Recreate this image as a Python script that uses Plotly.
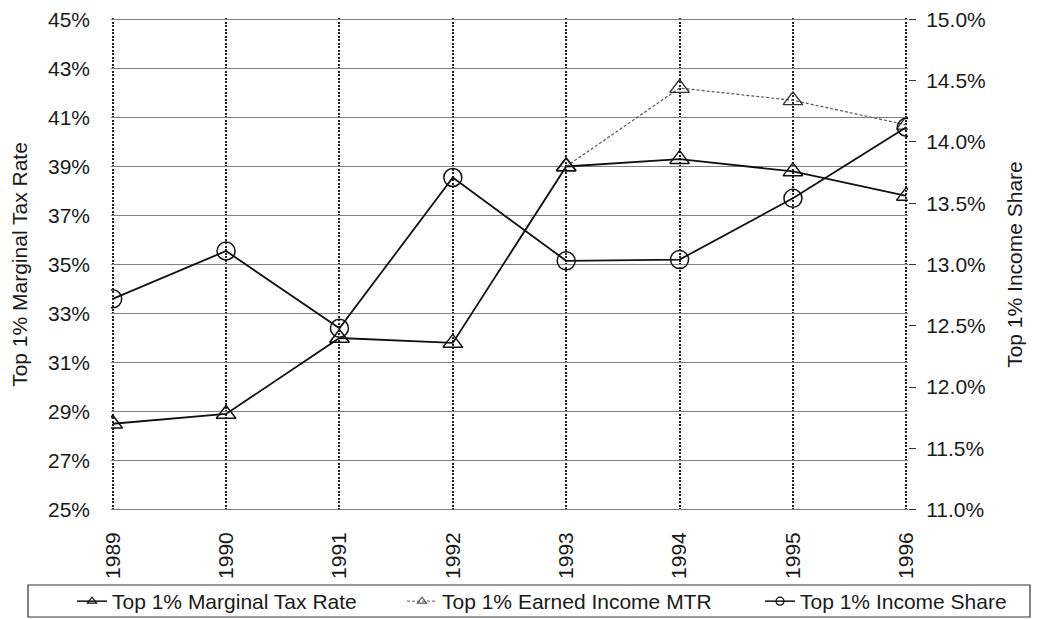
import plotly.graph_objects as go

years = [1989, 1990, 1991, 1992, 1993, 1994, 1995, 1996]
year_labels = ["1989", "1990", "1991", "1992", "1993", "1994", "1995", "1996"]
top1_mtr = [28.5, 28.9, 32.0, 31.8, 39.0, 39.3, 38.8, 37.8]
top1_earned_mtr = [None, None, None, None, 39.0, 42.2, 41.7, 40.7]
top1_income_share = [12.72, 13.11, 12.48, 13.71, 13.03, 13.04, 13.54, 14.12]

left_ticks = [25, 27, 29, 31, 33, 35, 37, 39, 41, 43, 45]
left_labels = ["25%", "27%", "29%", "31%", "33%", "35%", "37%", "39%", "41%", "43%", "45%"]
right_ticks = [11.0, 11.5, 12.0, 12.5, 13.0, 13.5, 14.0, 14.5, 15.0]
right_labels = ["11.0%", "11.5%", "12.0%", "12.5%", "13.0%", "13.5%", "14.0%", "14.5%", "15.0%"]

FONT = "Liberation Sans, Arial, sans-serif"
# page body has an 8px margin, so the figure is 8px smaller than the window
W, H = 1032, 611
L, R, T, B = 103, 132, 10, 108
PW, PH = W - L - R, H - T - B

fig = go.Figure()

fig.add_trace(go.Scatter(
    x=years, y=top1_earned_mtr, name="Top 1% Earned Income MTR",
    mode="lines+markers", showlegend=False,
    line=dict(color="#555555", width=1.2, dash="3px,2px"),
    marker=dict(symbol="triangle-up-open", size=17, color="#333333", line=dict(width=1.4)),
    yaxis="y",
))
fig.add_trace(go.Scatter(
    x=years, y=top1_mtr, name="Top 1% Marginal Tax Rate",
    mode="lines+markers", showlegend=False,
    line=dict(color="#111111", width=1.8),
    marker=dict(symbol="triangle-up-open", size=17, color="#111111", line=dict(width=1.5)),
    yaxis="y",
))
fig.add_trace(go.Scatter(
    x=years, y=top1_income_share, name="Top 1% Income Share",
    mode="lines+markers", showlegend=False,
    line=dict(color="#111111", width=1.8),
    marker=dict(symbol="circle-open", size=18, color="#111111", line=dict(width=1.5)),
    yaxis="y2",
))

# legend-only entries (small symbols, as in the reference legend)
legend_items = [
    ("Top 1% Marginal Tax Rate", "#111111", "solid", 1.5, "legend", 285),
    ("Top 1% Earned Income MTR", "#555555", "3px,2px", 1.0, "legend", 313),
    ("Top 1% Income Share", "#111111", "solid", 1.5, "legend2", None),
]
for name, col, dash, lw, leg, lwid in legend_items:
    sym = "circle-open" if "Share" in name else "triangle-up-open"
    fig.add_trace(go.Scatter(
        x=[None], y=[None], name=name, mode="lines+markers",
        line=dict(color=col, width=lw, dash=dash),
        marker=dict(symbol=sym, size=8, color=col, line=dict(width=1.2)),
        legend=leg, legendwidth=lwid, showlegend=True,
    ))

legend_style = dict(
    orientation="h", xref="paper", yref="paper",
    xanchor="left", yanchor="top",
    bgcolor="rgba(0,0,0,0)", borderwidth=0,
    font=dict(size=21), traceorder="normal", itemsizing="trace",
)

fig.update_layout(
    width=W, height=H,
    margin=dict(l=L, r=R, t=T, b=B, autoexpand=False),
    paper_bgcolor="white", plot_bgcolor="white",
    font=dict(family=FONT, size=21, color="#1a1a1a"),
    showlegend=True,
    legend=dict(legend_style, x=(64 - L) / PW, y=-(573 - (H - B)) / PH),
    legend2=dict(legend_style, x=(752 - L) / PW, y=-(573 - (H - B)) / PH),
    xaxis=dict(
        range=[1988.985, 1996.015], tickvals=years, ticktext=year_labels,
        tickangle=-90, showgrid=True, gridcolor="#222222", gridwidth=1.5,
        griddash="2px,1.5px", zeroline=False, showline=False, ticks="",
        ticklabelstandoff=16, ticklabeloverflow="allow",
    ),
    yaxis=dict(
        range=[24.94, 45.06], tickvals=left_ticks, ticktext=left_labels,
        showgrid=True, gridcolor="#808080", gridwidth=1,
        zeroline=False, showline=False, ticks="",
        ticklabelstandoff=20, ticklabeloverflow="allow",
        title=dict(text="Top 1% Marginal Tax Rate", standoff=16, font=dict(size=21)),
    ),
    yaxis2=dict(
        range=[10.988, 15.012], tickvals=right_ticks, ticktext=right_labels,
        overlaying="y", side="right", showgrid=False, zeroline=False,
        showline=False, ticks="outside", ticklen=7, tickcolor="#333333",
        ticklabelstandoff=6, ticklabeloverflow="allow",
        title=dict(text="Top 1% Income Share", standoff=22, font=dict(size=21)),
    ),
    shapes=[dict(
        type="rect", xref="paper", yref="paper",
        x0=(20 - L) / PW, x1=(1022 - L) / PW,
        y0=-(577 - (H - B)) / PH, y1=-(609 - (H - B)) / PH,
        line=dict(color="#333333", width=1.2), fillcolor="rgba(0,0,0,0)",
        layer="above",
    )],
)

fig.write_html("out.html")
